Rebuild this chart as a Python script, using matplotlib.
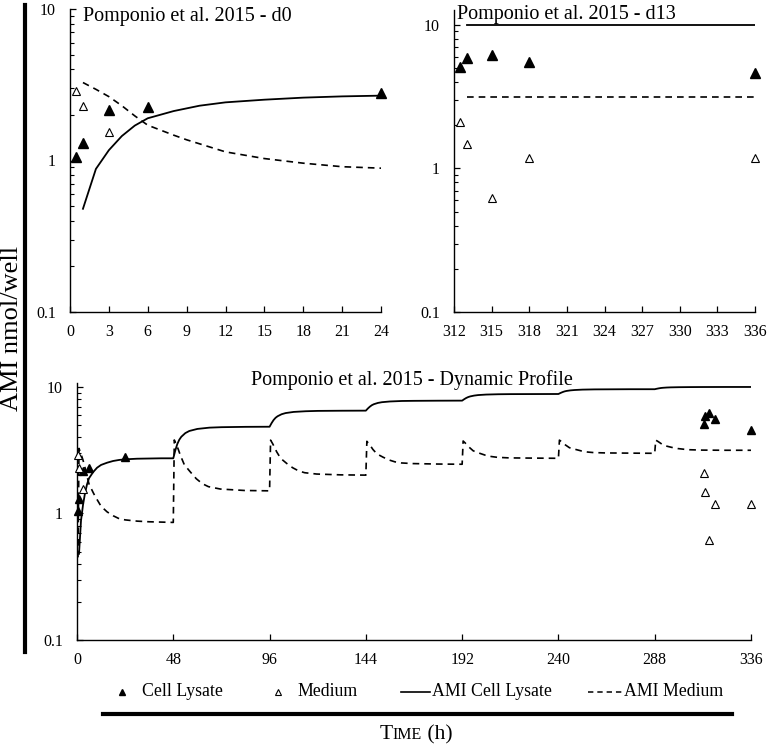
import matplotlib
matplotlib.use("Agg")
import matplotlib.pyplot as plt
from matplotlib.lines import Line2D
from matplotlib.ticker import FixedLocator, FixedFormatter, LogLocator, NullFormatter

plt.rcParams['font.family'] = ['Liberation Serif', 'DejaVu Serif']

# ---------------- data ----------------
# measured points
lysate_t = [0.5, 1, 3, 6, 24, 312.5, 313, 315, 318, 336]
lysate_v = [1.05, 1.31, 2.15, 2.27, 2.8, 5.1, 5.86, 6.18, 5.55, 4.6]
medium_t = [0.5, 1, 3, 312.5, 313, 315, 318, 336]
medium_v = [2.89, 2.29, 1.55, 2.1, 1.48, 0.62, 1.18, 1.18]

# model: AMI cell lysate (dynamic profile)
model_lys_t = [1, 1.5, 2, 3, 4, 5, 6, 8, 10, 12, 15, 18, 21, 24, 30, 36, 42, 48,
               49, 50, 51, 52, 54, 56, 60, 66, 72, 84, 96,
               97, 98, 99, 100, 102, 104, 108, 114, 120, 132, 144,
               145, 146, 147, 148, 150, 152, 156, 162, 168, 180, 192,
               193, 194, 195, 196, 198, 200, 204, 210, 216, 228, 240,
               241, 242, 243, 244, 246, 248, 252, 258, 264, 276, 288,
               289, 290, 291, 292, 294, 296, 300, 306, 312, 324, 336]
model_lys_v = [0.48, 0.65, 0.88, 1.17, 1.45, 1.7, 1.9, 2.12, 2.3, 2.42, 2.52, 2.6, 2.65, 2.68, 2.71, 2.72, 2.73, 2.73,
               3.15, 3.54, 3.83, 4.04, 4.32, 4.49, 4.66, 4.77, 4.81, 4.84, 4.85,
               5.18, 5.48, 5.71, 5.87, 6.09, 6.22, 6.35, 6.43, 6.47, 6.49, 6.5,
               6.76, 6.99, 7.18, 7.31, 7.48, 7.58, 7.68, 7.75, 7.77, 7.79, 7.8,
               8.0, 8.18, 8.32, 8.42, 8.55, 8.63, 8.71, 8.76, 8.78, 8.79, 8.8,
               8.96, 9.1, 9.22, 9.3, 9.4, 9.46, 9.53, 9.57, 9.58, 9.6, 9.6,
               9.68, 9.75, 9.81, 9.85, 9.9, 9.93, 9.96, 9.98, 9.99, 10.0, 10.0]

# model: AMI medium (dynamic profile)
model_med_t = [0.5, 1, 2, 3, 4, 5, 6, 8, 9, 12, 15, 18, 21, 24, 30, 36, 42, 48,
               48.5, 49.5, 50.5, 51.5, 53.5, 56.5, 59.5, 62.5, 65.5, 71.5, 83.5, 96,
               96.5, 97.5, 98.5, 99.5, 101.5, 104.5, 107.5, 110.5, 113.5, 119.5, 131.5, 144,
               144.5, 145.5, 146.5, 147.5, 149.5, 152.5, 155.5, 158.5, 161.5, 167.5, 179.5, 192,
               192.5, 193.5, 194.5, 195.5, 197.5, 200.5, 203.5, 206.5, 209.5, 215.5, 227.5, 240,
               240.5, 241.5, 242.5, 243.5, 245.5, 248.5, 251.5, 254.5, 257.5, 263.5, 275.5, 288,
               288.5, 289.5, 290.5, 291.5, 293.5, 296.5, 299.5, 302.5, 305.5, 311.5, 323.5, 336]
model_med_v = [0.45, 3.27, 2.95, 2.64, 2.3, 1.97, 1.71, 1.47, 1.37, 1.14, 1.03, 0.96, 0.91, 0.89, 0.87, 0.86, 0.855, 0.85,
               3.81, 3.51, 3.21, 2.89, 2.43, 2.13, 1.88, 1.72, 1.63, 1.56, 1.52, 1.51,
               3.8, 3.57, 3.33, 3.08, 2.73, 2.49, 2.30, 2.17, 2.10, 2.05, 2.02, 2.01,
               3.72, 3.55, 3.39, 3.21, 2.96, 2.79, 2.65, 2.56, 2.51, 2.48, 2.46, 2.45,
               3.74, 3.61, 3.48, 3.34, 3.13, 3.0, 2.89, 2.82, 2.78, 2.75, 2.74, 2.73,
               3.8, 3.7, 3.59, 3.48, 3.31, 3.21, 3.12, 3.06, 3.03, 3.01, 3.0, 2.99,
               3.8, 3.72, 3.63, 3.54, 3.42, 3.33, 3.26, 3.22, 3.19, 3.17, 3.16, 3.16]

# model for the d13 panel
d13_model_t = [313, 336]
d13_lys_v = [10.0, 10.0]
d13_med_v = [3.16, 3.16]

ticks_d0 = [0, 3, 6, 9, 12, 15, 18, 21, 24]
ticks_d13 = [312, 315, 318, 321, 324, 327, 330, 333, 336]
ticks_dyn = [0, 48, 96, 144, 192, 240, 288, 336]
y_ticks = [0.1, 1, 10]
y_labels = ['0.1', '1', '10']

titles = ['Pomponio et al. 2015 - d0', 'Pomponio et al. 2015 - d13',
          'Pomponio et al. 2015 - Dynamic Profile']
legend_labels = ['Cell Lysate', 'Medium', 'AMI Cell Lysate', 'AMI Medium']

# ---------------- figure ----------------
W, H = 768, 747
fig = plt.figure(figsize=(W / 100, H / 100), dpi=100)
DASH = (0, (4, 3))


def fx(px):
    return px / W


def fy(py):
    return 1 - py / H


def px_axes(l, t, r, b):
    return fig.add_axes([l / W, 1 - b / H, (r - l) / W, (b - t) / H])


def style(ax, xticks, xlim, ylim):
    ax.set_yscale('log')
    ax.set_xlim(*xlim)
    ax.set_ylim(*ylim)
    for s in ['top', 'right']:
        ax.spines[s].set_visible(False)
    for s in ['left', 'bottom']:
        ax.spines[s].set_linewidth(1.0)
    ax.xaxis.set_major_locator(FixedLocator(xticks))
    ax.xaxis.set_major_formatter(FixedFormatter([str(x) for x in xticks]))
    ax.yaxis.set_major_locator(FixedLocator(y_ticks))
    ax.yaxis.set_major_formatter(FixedFormatter(y_labels))
    ax.yaxis.set_minor_locator(LogLocator(base=10, subs=range(2, 10)))
    ax.yaxis.set_minor_formatter(NullFormatter())
    ax.tick_params(axis='both', which='major', direction='in', length=4, width=0.9,
                   labelsize=11.5)
    ax.tick_params(axis='y', which='major', pad=10)
    ax.tick_params(axis='y', which='minor', direction='in', length=3, width=0.8)
    ax.tick_params(axis='x', which='major', pad=9)


def draw_points(ax, ms):
    ax.plot(lysate_t, lysate_v, linestyle='none', marker='^', color='black',
            markersize=ms, clip_on=False, zorder=5)
    ax.plot(medium_t, medium_v, linestyle='none', marker='^', markerfacecolor='white',
            markeredgecolor='black', markeredgewidth=0.8, markersize=ms * 0.9, clip_on=False, zorder=5)


# top-left: d0
ax1 = px_axes(70, 9, 381, 312)
style(ax1, ticks_d0, (0, 24), (0.1, 10))
ax1.plot(model_lys_t, model_lys_v, color='black', lw=1.3)
ax1.plot(model_med_t[1:], model_med_v[1:], color='black', lw=1.2, ls=DASH)
draw_points(ax1, 6.5)
fig.text(fx(83), fy(17), titles[0], fontsize=14.5, ha='left', va='center')

# top-right: d13
ax2 = px_axes(454, 10, 755, 312)
style(ax2, ticks_d13, (312, 336), (0.1, 12.7))
ax2.plot(d13_model_t, d13_lys_v, color='black', lw=1.3)
ax2.plot(d13_model_t, d13_med_v, color='black', lw=1.2, ls=DASH)
draw_points(ax2, 6.5)
fig.text(fx(457), fy(15), titles[1], fontsize=14.5, ha='left', va='center')

# bottom: dynamic profile
ax3 = px_axes(77, 383, 751, 640)
style(ax3, ticks_dyn, (0, 336), (0.1, 10.75))
ax3.plot(model_lys_t, model_lys_v, color='black', lw=1.3)
ax3.plot(model_med_t, model_med_v, color='black', lw=1.2, ls=DASH)
draw_points(ax3, 5.7)
fig.text(fx(412), fy(380), titles[2], fontsize=14.5, ha='center', va='center')

# y label and decorative lines
fig.text(fx(12), fy(328), 'AMI nmol/well', rotation=90, fontsize=19,
         ha='center', va='center')
fig.add_artist(Line2D([fx(25), fx(25)], [fy(5), fy(652)], transform=fig.transFigure,
                      color='black', lw=3))
fig.add_artist(Line2D([fx(103), fx(732)], [fy(714), fy(714)], transform=fig.transFigure,
                      color='black', lw=3))

# legend (placed item by item)
ly = fy(692)
fig.add_artist(Line2D([fx(122)], [ly], ls='none', marker='^', color='black', markersize=5,
                      transform=fig.transFigure))
fig.add_artist(Line2D([fx(278)], [ly], ls='none', marker='^', markerfacecolor='white',
                      markeredgecolor='black', markeredgewidth=0.8, markersize=4.5,
                      transform=fig.transFigure))
fig.add_artist(Line2D([fx(401), fx(430)], [ly, ly], color='black', lw=1.2,
                      transform=fig.transFigure))
fig.add_artist(Line2D([fx(588), fx(622)], [ly, ly], color='black', lw=1.1, ls=(0, (3.5, 2.6)),
                      transform=fig.transFigure))
for xpx, lab in zip([142, 297, 432, 624], legend_labels):
    fig.text(fx(xpx), ly, lab, fontsize=12.8, ha='left', va='center')

# Time (h) in small caps
fig.canvas.draw()
r = fig.canvas.get_renderer()
cy = fy(739)
parts = [('T', 15.5), ('IME', 11.5), (' (h)', 15.5)]
widths = []
for s, fs in parts:
    t = fig.text(0, cy, s, fontsize=fs)
    widths.append(t.get_window_extent(renderer=r).width / W)
    t.remove()
x = fx(416) - sum(widths) / 2
for (s, fs), w in zip(parts, widths):
    fig.text(x, cy, s, fontsize=fs, ha='left', va='baseline')
    x += w

fig.savefig('out.png', dpi=100)
